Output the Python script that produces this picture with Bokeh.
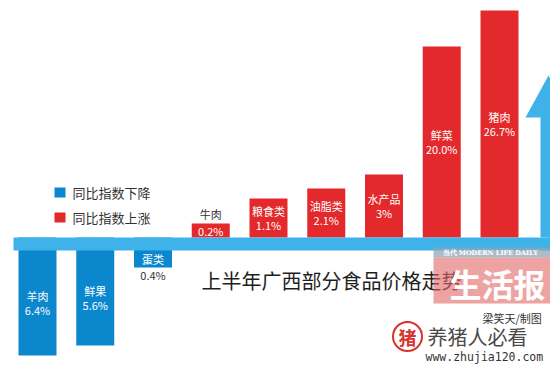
from bokeh.plotting import figure
from bokeh.models import Range1d, ColumnDataSource
from bokeh.core.properties import value
from bokeh.embed import file_html
from bokeh.resources import INLINE

# ---- data ----
categories = ["羊肉", "鲜果", "蛋类", "牛肉", "粮食类", "油脂类", "水产品", "鲜菜", "猪肉"]
pct_change = [-6.4, -5.6, -0.4, 0.2, 1.1, 2.1, 3, 20.0, 26.7]
pct_labels = ["6.4%", "5.6%", "0.4%", "0.2%", "1.1%", "2.1%", "3%", "20.0%", "26.7%"]
# drawn bar length of each bar as it appears in the picture (the original is not to scale)
bar_length = [105, 95, 17, 14, 39, 49, 63, 191, 227]
legend_labels = ["同比指数下降", "同比指数上涨"]
title_text = "上半年广西部分食品价格走势"
credit_text = "梁笑天/制图"

# ---- style ----
RED = "#e3292b"
BLUE = "#0b87cd"
BAND = "#3fb2ea"
DARK = "#333333"
FONT = value("Noto Sans CJK SC")
BAND_T = 13  # thickness of the horizontal baseline band

W, H = 550, 367
OFF = 0     # page offset of the figure
PITCH = 57.75
X0 = 37.0   # px of first bar centre
Y0 = 237.0  # px of band top


def X(px):
    return (px - X0) / PITCH


def Y(py):
    return Y0 - py


p = figure(width=W, height=H, output_backend="svg", toolbar_location=None,
           x_range=Range1d(X(OFF), X(OFF + W)), y_range=Range1d(Y(OFF + H), Y(OFF)),
           min_border=0, min_border_left=0, min_border_right=0,
           min_border_top=0, min_border_bottom=0)
p.axis.visible = False
p.grid.visible = False
p.outline_line_color = None
p.background_fill_color = "white"
p.border_fill_color = "white"

idx = list(range(len(categories)))
tops, bottoms, colors = [], [], []
name_y, pct_y, name_col, pct_col = [], [], [], []
for v, h in zip(pct_change, bar_length):
    if v >= 0:
        bottoms.append(0)
        tops.append(h)
        colors.append(RED)
        if h < 20:
            pct_y.append(h / 2); name_y.append(h + 10)
            pct_col.append("white"); name_col.append(DARK)
        else:
            c = h / 2
            name_y.append(c + 7); pct_y.append(c - 7)
            pct_col.append("white"); name_col.append("white")
    else:
        tops.append(0)
        bottoms.append(-(BAND_T + h))
        colors.append(BLUE)
        if h < 20:
            name_y.append(-BAND_T - h / 2); pct_y.append(-BAND_T - h - 7)
            name_col.append("white"); pct_col.append(DARK)
        else:
            c = -BAND_T - h / 2
            name_y.append(c + 7); pct_y.append(c - 7)
            name_col.append("white"); pct_col.append("white")

src = ColumnDataSource(dict(x=idx, top=tops, bottom=bottoms, color=colors,
                            name=categories, pct=pct_labels,
                            name_y=name_y, pct_y=pct_y,
                            name_col=name_col, pct_col=pct_col))

p.vbar(x="x", top="top", bottom="bottom", width=38 / PITCH, color="color",
       line_color=None, source=src)

# baseline band
p.quad(left=[X(13)], right=[X(560)], top=[0], bottom=[-BAND_T],
       color=BAND, line_color=None)
# upward arrow on the right
ax = [X(540), X(540), X(525), X(548), X(571), X(556), X(556)]
ay = [Y(Y0), Y(117), Y(117), Y(75), Y(117), Y(117), Y(Y0)]
p.patch(ax, ay, color=BAND, line_color=None)

p.text(x="x", y="name_y", text="name", text_color="name_col", source=src,
       text_font=FONT, text_font_size="11px", text_align="center",
       text_baseline="middle")
p.text(x="x", y="pct_y", text="pct", text_color="pct_col", source=src,
       text_font=FONT, text_font_size="11px", text_align="center",
       text_baseline="middle")

# legend
p.quad(left=[X(54), X(54)], right=[X(65), X(65)], top=[Y(187), Y(212)],
       bottom=[Y(197), Y(222)], color=[BLUE, RED], line_color=None)
p.text(x=[X(72), X(72)], y=[Y(192), Y(217)], text=legend_labels,
       text_color=DARK, text_font=FONT, text_font_size="13px",
       text_baseline="middle", text_align="left")

# title
p.text(x=[X(201)], y=[Y(280)], text=[title_text], text_color="#1e1e1e",
       text_font=FONT, text_font_size="20px", text_baseline="middle",
       text_align="left")

# newspaper watermark block (semi-transparent, the title shows through)
p.quad(left=[X(433)], right=[X(560)], top=[Y(247)], bottom=[Y(257)],
       color="#8fa6b8", line_color=None, alpha=0.75)
p.quad(left=[X(433)], right=[X(560)], top=[Y(257)], bottom=[Y(303)],
       color="#e36666", line_color=None, alpha=0.6)
p.text(x=[X(442)], y=[Y(252)], text=["当代 MODERN LIFE DAILY"], text_color="white",
       text_font=value("DejaVu Serif"), text_font_size="6.5px",
       text_font_style="bold", text_baseline="middle", text_align="left")
p.text(x=[X(497)], y=[Y(282)], text=["生活报"], text_color="white",
       text_font=FONT, text_font_size="32px", text_font_style="bold",
       text_baseline="middle", text_align="center")

# credit
p.text(x=[X(482)], y=[Y(317)], text=[credit_text], text_color=DARK,
       text_font=FONT, text_font_size="11px", text_baseline="middle",
       text_align="left")

# site watermark
p.scatter(x=[X(407)], y=[Y(336)], size=29, marker="circle", fill_color=None,
          line_color="#d8322c", line_width=2)
p.text(x=[X(407)], y=[Y(336)], text=["猪"], text_color="#d8322c",
       text_font=FONT, text_font_size="18px", text_font_style="bold",
       text_baseline="middle", text_align="center")
p.text(x=[X(427)], y=[Y(336)], text=["养猪人必看"], text_color="#4a4a4a",
       text_font=FONT, text_font_size="20px", text_baseline="middle",
       text_align="left")
p.text(x=[X(425)], y=[Y(356)], text=["www.zhujia120.com"], text_color="#333333",
       text_font=value("DejaVu Sans Mono"), text_font_size="11.5px",
       text_baseline="middle", text_align="left")

open("out.html", "w").write(file_html(p, INLINE))
